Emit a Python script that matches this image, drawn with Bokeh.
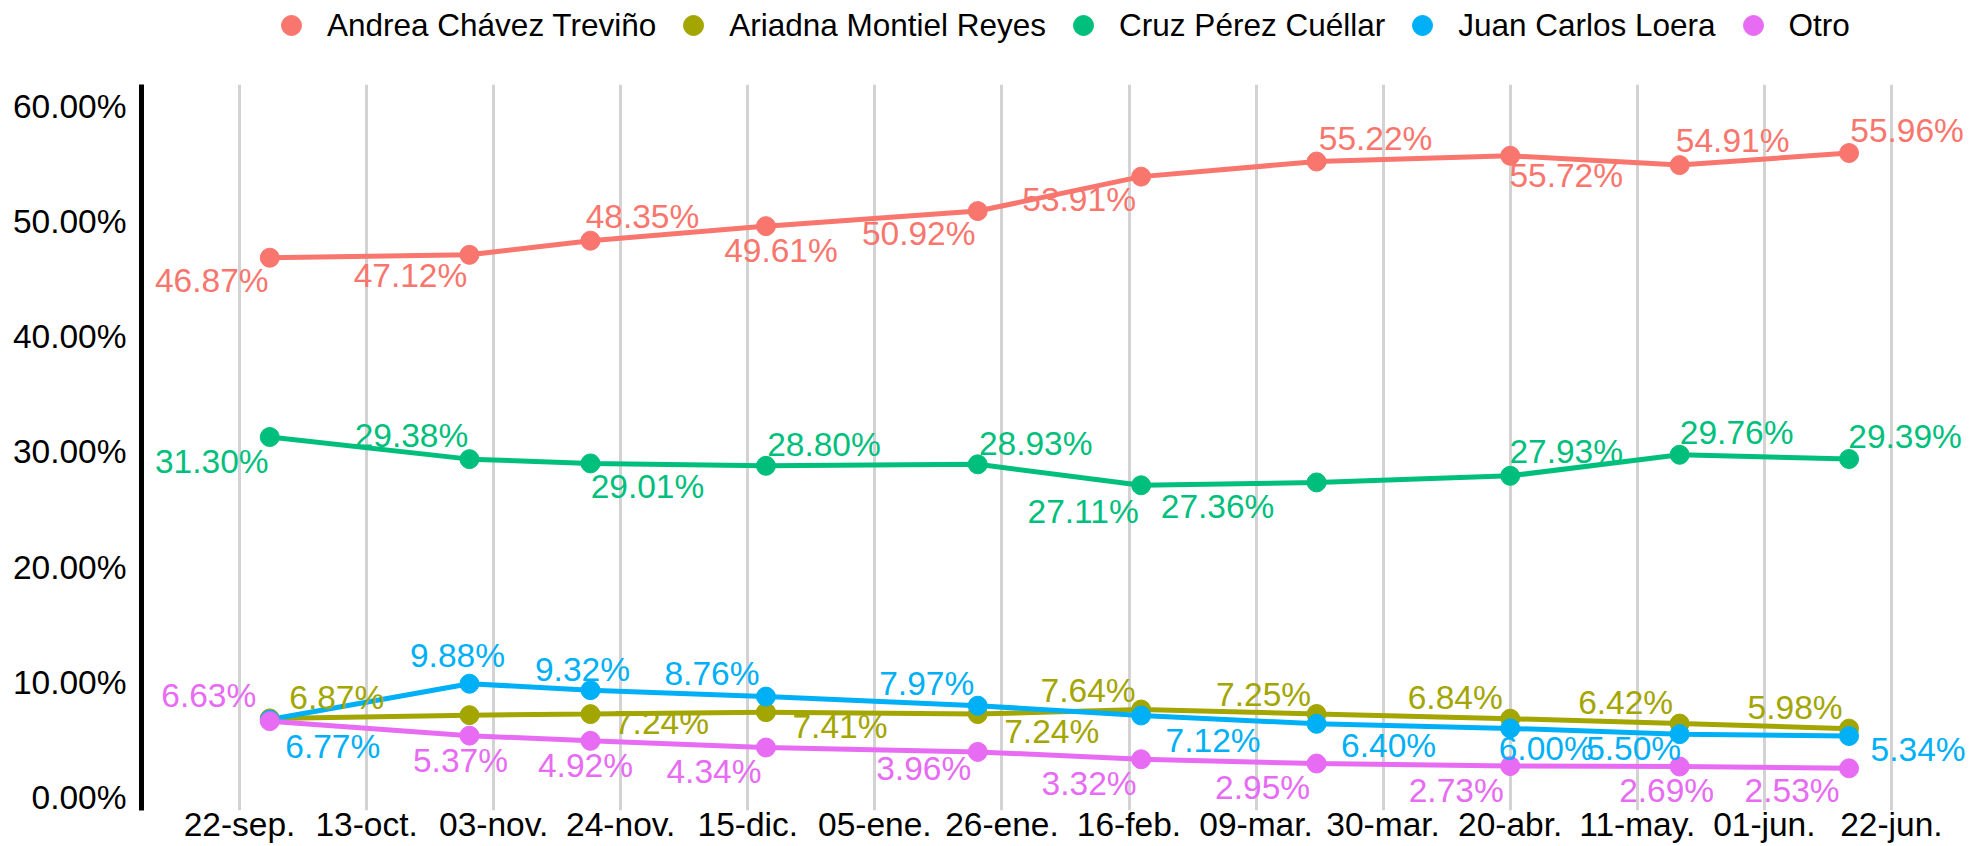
import pandas as pd
from bokeh.plotting import figure
from bokeh.layouts import column
from bokeh.models import (ColumnDataSource, Range1d, FixedTicker, CustomJSTickFormatter,
                          PrintfTickFormatter, Legend, LegendItem)
from bokeh.core.properties import value
from bokeh.embed import file_html
from bokeh.resources import INLINE

# ---------------- data ----------------
poll_dates = ["2025-09-27", "2025-10-30", "2025-11-19", "2025-12-18", "2026-01-22",
              "2026-02-18", "2026-03-19", "2026-04-20", "2026-05-18", "2026-06-15"]
series_names = ["Andrea Chávez Treviño", "Ariadna Montiel Reyes", "Cruz Pérez Cuéllar",
                "Juan Carlos Loera", "Otro"]
andrea = [46.87, 47.12, 48.35, 49.61, 50.92, 53.91, 55.22, 55.72, 54.91, 55.96]
ariadna = [6.87, 7.15, 7.24, 7.41, 7.24, 7.64, 7.25, 6.84, 6.42, 5.98]
cruz = [31.30, 29.38, 29.01, 28.80, 28.93, 27.11, 27.36, 27.93, 29.76, 29.39]
juan = [6.77, 9.88, 9.32, 8.76, 7.97, 7.12, 6.40, 6.00, 5.50, 5.34]
otro = [6.63, 5.37, 4.92, 4.34, 3.96, 3.32, 2.95, 2.73, 2.69, 2.53]
series_values = [andrea, ariadna, cruz, juan, otro]
# which value labels are shown (one label was dropped in the original)
label_shown = [
    [True] * 10,
    [True, False] + [True] * 8,
    [True] * 10,
    [True] * 10,
    [True] * 10,
]

tick_dates = ["2025-09-22", "2025-10-13", "2025-11-03", "2025-11-24", "2025-12-15",
              "2026-01-05", "2026-01-26", "2026-02-16", "2026-03-09", "2026-03-30",
              "2026-04-20", "2026-05-11", "2026-06-01", "2026-06-22"]
tick_labels = ["22-sep.", "13-oct.", "03-nov.", "24-nov.", "15-dic.", "05-ene.", "26-ene.",
               "16-feb.", "09-mar.", "30-mar.", "20-abr.", "11-may.", "01-jun.", "22-jun."]
y_ticks = [0, 10, 20, 30, 40, 50, 60]

# ---------------- style ----------------
colors = ["#F8766D", "#A3A500", "#00BF7D", "#00B0F6", "#E76BF3"]
FONT = "Liberation Sans"
TXT = "33.5px"

# label placement (pixel offsets from each point, like ggrepel result)
label_dx = [
    [-58, -59, 52, 15, -59, -62, 59, 56, 53, 58],
    [67, 0, 71, 74, 74, -53, -53, -55, -54, -54],
    [-58, -58, 57, 58, 58, -58, -99, 56, 57, 56],
    [63, -12, -8, -54, -51, 72, 72, 36, -46, 69],
    [-61, -9, -5, -52, -54, -52, -54, -54, -13, -57],
]
label_dy = [
    [23, 21, -24, 24, 22, 23, -23, 20, -25, -23],
    [-21, 0, 8, 14, 17, -19, -20, -21, -21, -21],
    [24, -24, 23, -21, -21, 26, 24, -24, -22, -23],
    [27, -28, -21, -23, -22, 25, 22, 20, 14, 14],
    [-26, 25, 25, 24, 17, 24, 24, 24, 24, 22],
]

epoch = pd.Timestamp("1970-01-01")


def to_ms(ts):
    return (pd.Timestamp(ts) - epoch) / pd.Timedelta(milliseconds=1)


dates = pd.to_datetime(poll_dates)
tick_ms = [to_ms(d) for d in tick_dates]
origin = pd.Timestamp(tick_dates[0])
x_start = to_ms(origin - pd.Timedelta(days=16.2))
x_end = to_ms(origin + pd.Timedelta(days=286.4))

# ---------------- main chart ----------------
p = figure(width=1972, height=796, x_axis_type="datetime",
           output_backend="svg", toolbar_location=None,
           x_range=Range1d(x_start, x_end), y_range=Range1d(-1.129, 61.91),
           min_border_left=141, min_border_right=0, min_border_top=34,
           min_border_bottom=36)
p.outline_line_color = None
p.background_fill_color = "white"
p.border_fill_color = "white"

p.ygrid.visible = False
p.xgrid.grid_line_color = "#d3d3d3"
p.xgrid.grid_line_width = 3

p.xaxis.ticker = FixedTicker(ticks=tick_ms)
p.xaxis.formatter = CustomJSTickFormatter(
    args=dict(tvals=tick_ms, tlabs=tick_labels),
    code="""
    for (let i = 0; i < tvals.length; i++) {
        if (Math.abs(tvals[i] - tick) < 1000) { return tlabs[i]; }
    }
    return '';
    """)
p.xaxis.axis_line_color = None
p.xaxis.major_tick_line_color = None
p.xaxis.minor_tick_line_color = None
p.xaxis.major_label_standoff = -11
p.xaxis.major_label_text_font = FONT
p.xaxis.major_label_text_font_size = TXT
p.xaxis.major_label_text_color = "black"

p.yaxis.ticker = FixedTicker(ticks=y_ticks)
p.yaxis.formatter = PrintfTickFormatter(format="%.2f%%")
p.yaxis.axis_line_color = "black"
p.yaxis.axis_line_width = 5
p.yaxis.major_tick_line_color = None
p.yaxis.minor_tick_line_color = None
p.yaxis.major_label_standoff = 9
p.yaxis.major_label_text_font = FONT
p.yaxis.major_label_text_font_size = TXT
p.yaxis.major_label_text_color = "black"

sources = []
for name, vals, shown, dx, dy in zip(series_names, series_values, label_shown, label_dx, label_dy):
    sources.append(ColumnDataSource(dict(
        date=dates, v=vals,
        lab=[f"{v:.2f}%" if s else "" for v, s in zip(vals, shown)],
        dx=dx, dy=dy)))

for src, c in zip(sources, colors):
    p.line(x="date", y="v", source=src, line_color=c, line_width=5)

for src, c in zip(sources, colors):
    p.scatter(x="date", y="v", source=src, size=19, fill_color=c, line_color=c)

for src, c in zip(sources, colors):
    p.text(x="date", y="v", text="lab", source=src, x_offset="dx", y_offset="dy",
           text_align="center", text_baseline="middle", text_color=c,
           text_font=value(FONT), text_font_size=TXT)

# ---------------- legend strip (top) ----------------
lg = figure(width=1972, height=50, output_backend="svg", toolbar_location=None,
            x_axis_location=None, y_axis_location=None,
            min_border_left=0, min_border_right=0, min_border_top=0, min_border_bottom=0)
lg.outline_line_color = None
lg.xgrid.visible = False
lg.ygrid.visible = False
key_renderers = []
for src, c in zip(sources, colors):
    # hidden copies of the point layers; they only provide the legend keys
    key_renderers.append(lg.scatter(x="date", y="v", source=src, size=19,
                                    fill_color=c, line_color=c, visible=False))

legend = Legend(
    items=[LegendItem(label=n, renderers=[r]) for n, r in zip(series_names, key_renderers)],
    orientation="horizontal", location=(125, 0),
    glyph_width=50, glyph_height=50, label_standoff=11, spacing=12,
    padding=0, margin=0, border_line_alpha=0, background_fill_alpha=0,
    inactive_fill_alpha=0,
    label_text_font=FONT, label_text_font_size="31.5px", label_text_color="black")
lg.add_layout(legend)

layout = column(lg, p, spacing=0)
open("out.html", "w").write(file_html(layout, INLINE))
